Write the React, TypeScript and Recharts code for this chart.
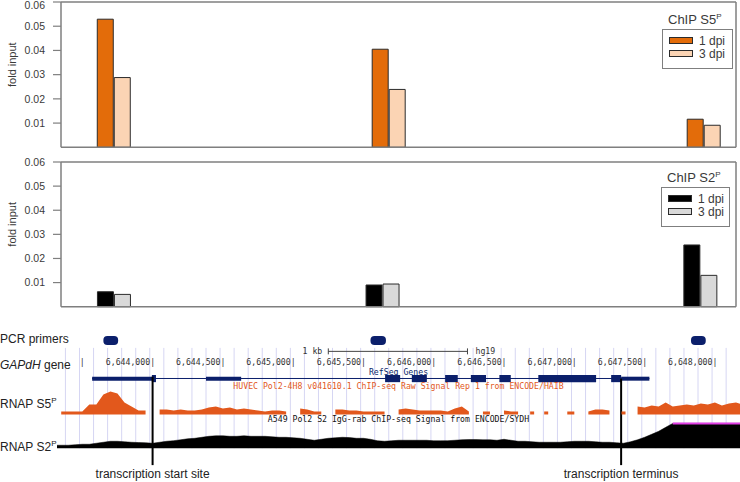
import React from "react";
import {
  BarChart,
  Bar,
  XAxis,
  YAxis,
  ReferenceLine,
  ReferenceArea,
  Legend,
  ComposedChart,
  Area,
  Line,
} from "recharts";

const sans = '"Liberation Sans", Arial, sans-serif';
const mono = '"DejaVu Sans Mono", monospace';
const axisGray = "#7f7f7f";
const textGray = "#3a3a3a";
const navy = "#0b1f6b";
const ucscOrange = "#e2581c";

// ChIP-qPCR, amplicon midpoints on chr12 (hg19, bp)
const s5Amplicons = [6643725, 6645680, 6647920];
const s5Dpi1 = [0.0529, 0.0405, 0.0116];
const s5Dpi3 = [0.0288, 0.0239, 0.0091];

const s2Amplicons = [6643725, 6645635, 6647895];
const s2Dpi1 = [0.0062, 0.009, 0.0256];
const s2Dpi3 = [0.0051, 0.0094, 0.013];

const yTicks = [0.01, 0.02, 0.03, 0.04, 0.05, 0.06];
const panelDomain = [6643350, 6648150];

// genome browser window
const browserDomain = [6643320, 6648200];
const primerStart = [6643650, 6645550, 6647830];
const primerEnd = [6643755, 6645660, 6647935];
const geneSpan = [6643570, 6647534];
const utrBlocks = [
  [6643570, 6644000],
  [6644380, 6644630],
  [6647333, 6647534],
];
const exonBlocks = [
  [6643995, 6644024],
  [6645654, 6645761],
  [6645844, 6645951],
  [6646081, 6646171],
  [6646264, 6646372],
  [6646467, 6646548],
  [6646744, 6647155],
  [6647262, 6647333],
];
const tssPos = 6644000;
const terminusPos = 6647333;
const scaleBar = [6645250, 6646240];
const coordTicks = [6643500, 6644000, 6644500, 6645000, 6645500, 6646000, 6646500, 6647000, 6647500, 6648000];
const coordLabels = ["|", "6,644,000|", "6,644,500|", "6,645,000|", "6,645,500|", "6,646,000|", "6,646,500|", "6,647,000|", "6,647,500|", "6,648,000|"];
const guidePos = Array.from({ length: 48 }, (_, i) => 6643380 + i * 100);

// signal tracks, 50 bp bins starting at 6,643,300
const binPos = Array.from({ length: 99 }, (_, i) => 6643300 + i * 50);
const s5Signal = [
  null, 3, 3, 3, 3, 10, 10, 20, 23, 21,
  12, 8, 4, 4, null, 5, 5, 4, 5, 4,
  4, 5, 7, 8, 6, 7, 5, 6, 5, 4,
  3, 4, 4, 3, null, 6, 5, 3, 3, null,
  5, 5, 4, 4, 3, 3, 3, 3, null, 5,
  6, 5, 4, 4, 4, 4, 3, 6, 8, 3,
  null, 3, 3, null, 4, 3, 3, null, 3, null,
  3, null, null, 3, 3, null, 3, 5, 5, 4,
  null, 3, null, 8, 7, 9, 8, 12, 8, 9,
  10, 9, 11, 10, 12, 9, 11, 12, 10,
];
const s2Signal = [
  3, 3, 3, 3.5, 4, 4, 5, 6, 7, 7,
  6.5, 6, 5.7, 5.5, 5, 6, 7, 7.6, 8.5, 9.5,
  10, 11, 12, 12.5, 12.5, 12, 12, 12.5, 12, 12,
  12, 11.5, 11, 11, 10.5, 10, 9, 8, 9, 10,
  10.5, 11, 10.7, 10, 10, 9, 7.5, 7, 7.5, 8,
  8, 8, 8, 8, 7.5, 7.5, 7.6, 8, 8.5, 8.7,
  8.7, 8.5, 8.5, 8, 9, 8, 7, 7, 6.5, 6,
  6, 6, 6, 6.5, 7, 7, 7, 6.5, 6, 6,
  5.5, 5, 6.5, 8.5, 11, 14, 17, 21, 25, 25,
  25, 25, 25, 25, 25, 25, 25, 25, 25,
];
const s2ViewLimit = 25;

const trackData = binPos.map((pos, i) => ({
  pos,
  s5: s5Signal[i],
  s2: s2Signal[i],
  s2clip: s2Signal[i] >= s2ViewLimit ? s2Signal[i] : null,
}));

function PanelLegend({ payload, title, boxWidth }: any) {
  return (
    <div style={{ fontFamily: sans, color: textGray, width: boxWidth }}>
      <div style={{ fontSize: 13, lineHeight: "19px", paddingLeft: 6, whiteSpace: "nowrap" }}>
        {title}
        <sup style={{ fontSize: 8 }}>P</sup>
      </div>
      <div
        style={{
          border: `1px solid ${axisGray}`,
          padding: "4px 0 8px 6px",
          width: boxWidth,
          boxSizing: "border-box",
        }}
      >
        {(payload || []).map((e: any) => (
          <div key={e.value} style={{ display: "flex", alignItems: "center", height: 13, fontSize: 12 }}>
            <span
              style={{
                display: "inline-block",
                width: 22,
                height: 5,
                background: e.color,
                border: "1px solid #2b2b2b",
                marginRight: 6,
              }}
            />
            {e.value}
          </div>
        ))}
      </div>
    </div>
  );
}

function ChipPanel(props: any) {
  const { top, height, marginTop, marginBottom, pos, dpi1, dpi3, fill1, fill3, title, legendLeft, legendTop, boxWidth } = props;
  const data = pos.map((p: number, i: number) => ({ pos: p, d1: dpi1[i], d3: dpi3[i] }));
  return (
    <BarChart
      width={740}
      height={height}
      data={data}
      margin={{ top: marginTop, right: 4, bottom: marginBottom, left: 0 }}
      barGap={1}
      barSize={16}
      style={{ position: "absolute", left: 0, top }}
    >
      <XAxis
        dataKey="pos"
        type="number"
        domain={panelDomain}
        ticks={[]}
        tick={false}
        tickLine={false}
        height={1}
        axisLine={{ stroke: axisGray, strokeWidth: 1.5 }}
      />
      <YAxis
        domain={[0, 0.06]}
        ticks={yTicks}
        width={61}
        tickSize={8}
        tickMargin={8}
        tick={{ fill: textGray, fontSize: 10.5, fontFamily: sans }}
        tickLine={{ stroke: axisGray, strokeWidth: 1.2 }}
        axisLine={{ stroke: axisGray, strokeWidth: 1.5 }}
        label={{
          value: "fold input",
          angle: -90,
          position: "insideLeft",
          offset: 12,
          dy: -10,
          fill: textGray,
          fontSize: 11,
          fontFamily: sans,
          style: { textAnchor: "middle" },
        }}
      />
      <ReferenceLine y={0.06} stroke={axisGray} strokeWidth={1.5} />
      <ReferenceLine x={panelDomain[1]} stroke={axisGray} strokeWidth={1.5} />
      <Legend
        layout="vertical"
        align="center"
        verticalAlign="middle"
        wrapperStyle={{ left: legendLeft, top: legendTop, width: boxWidth }}
        content={(p: any) => <PanelLegend payload={p.payload} title={title} boxWidth={boxWidth} />}
      />
      <Bar dataKey="d1" name="1 dpi" fill={fill1} stroke="#2b2b2b" strokeWidth={1} isAnimationActive={false} />
      <Bar dataKey="d3" name="3 dpi" fill={fill3} stroke="#2b2b2b" strokeWidth={1} isAnimationActive={false} />
    </BarChart>
  );
}

function CoordTick({ x, payload }: any) {
  const idx = coordTicks.indexOf(payload.value);
  return (
    <text x={x + 2.5} y={34.5} textAnchor="end" fontFamily={mono} fontSize={8.2} fill="#333">
      {coordLabels[idx]}
    </text>
  );
}

function IsolatedBin(p: any) {
  const { cx, cy, index } = p;
  const isolated = s5Signal[index] != null && s5Signal[index - 1] == null && s5Signal[index + 1] == null;
  if (!isolated || cy == null || isNaN(cy)) return <g key={`d${index}`} />;
  return <rect key={`d${index}`} x={cx - 2} y={cy} width={4} height={3} fill={ucscOrange} />;
}

function roundedPrimer(p: any) {
  return <rect x={p.x} y={p.y} width={p.width} height={p.height} rx={4} ry={4} fill={navy} />;
}

function BrowserPanel() {
  const lbl = { fontFamily: mono, fontSize: 8.2, fill: "#333" };
  return (
    <ComposedChart
      width={743}
      height={152}
      data={trackData}
      margin={{ top: 0, right: 0, bottom: 0, left: 57 }}
      style={{ position: "absolute", left: 0, top: 330 }}
    >
      <XAxis
        dataKey="pos"
        type="number"
        domain={browserDomain}
        allowDataOverflow
        orientation="top"
        height={1}
        axisLine={false}
        tickLine={false}
        ticks={coordTicks}
        interval={0}
        tick={<CoordTick />}
      />
      <YAxis yAxisId="row" type="number" domain={[330, 482]} allowDataOverflow reversed hide />
      <YAxis yAxisId="s5" type="number" domain={[-68, 84]} allowDataOverflow hide />
      <YAxis yAxisId="s2" type="number" domain={[-34, 118]} allowDataOverflow hide />

      {guidePos.map((g) => (
        <ReferenceLine
          key={`g${g}`}
          yAxisId="row"
          segment={[{ x: g, y: 347 }, { x: g, y: 448 }]}
          stroke="#d6d6f3"
          strokeWidth={1}
          zIndex={-10}
        />
      ))}

      {primerStart.map((s, i) => (
        <ReferenceArea
          key={`p${i}`}
          yAxisId="row"
          x1={s}
          x2={primerEnd[i]}
          y1={335}
          y2={344}
          shape={roundedPrimer}
        />
      ))}

      <ReferenceLine
        yAxisId="row"
        segment={[{ x: scaleBar[0], y: 350.5 }, { x: scaleBar[1], y: 350.5 }]}
        stroke="#444"
        strokeWidth={1}
      />
      <ReferenceLine
        yAxisId="row"
        segment={[{ x: scaleBar[0], y: 347.5 }, { x: scaleBar[0], y: 353.5 }]}
        stroke="#444"
        strokeWidth={1}
        label={{ value: "1 kb", position: "left", offset: 6, ...lbl }}
      />
      <ReferenceLine
        yAxisId="row"
        segment={[{ x: scaleBar[1], y: 347.5 }, { x: scaleBar[1], y: 353.5 }]}
        stroke="#444"
        strokeWidth={1}
        label={{ value: "hg19", position: "right", offset: 8, ...lbl }}
      />

      <ReferenceLine
        yAxisId="row"
        segment={[{ x: geneSpan[0], y: 377.8 }, { x: geneSpan[1], y: 377.8 }]}
        stroke={navy}
        strokeWidth={1}
      />
      {utrBlocks.map(([a, b]) => (
        <ReferenceArea key={`u${a}`} yAxisId="row" x1={a} x2={b} y1={376} y2={380} fill={navy} fillOpacity={1} stroke="none" />
      ))}
      {exonBlocks.map(([a, b]) => (
        <ReferenceArea key={`e${a}`} yAxisId="row" x1={a} x2={b} y1={374.3} y2={381.5} fill={navy} fillOpacity={1} stroke="none" />
      ))}

      <Area
        yAxisId="s5"
        dataKey="s5"
        type="linear"
        baseValue={0}
        fill={ucscOrange}
        fillOpacity={1}
        stroke="none"
        dot={IsolatedBin}
        activeDot={false}
        isAnimationActive={false}
      />
      <Area
        yAxisId="s2"
        dataKey="s2"
        type="linear"
        baseValue={0}
        fill="#000"
        fillOpacity={1}
        stroke="#000"
        strokeWidth={0.5}
        dot={false}
        activeDot={false}
        isAnimationActive={false}
      />
      <Line
        yAxisId="s2"
        dataKey="s2clip"
        stroke="#e23ee6"
        strokeWidth={2}
        dot={false}
        activeDot={false}
        isAnimationActive={false}
      />

      <ReferenceLine
        yAxisId="row"
        segment={[{ x: tssPos, y: 376 }, { x: tssPos, y: 465 }]}
        stroke="#000"
        strokeWidth={2}
        label={{ value: "transcription start site", position: "bottom", offset: 4, fill: "#222", fontSize: 12, fontFamily: sans }}
      />
      <ReferenceLine
        yAxisId="row"
        segment={[{ x: terminusPos, y: 378 }, { x: terminusPos, y: 465 }]}
        stroke="#000"
        strokeWidth={2}
        label={{ value: "transcription terminus", position: "bottom", offset: 4, fill: "#222", fontSize: 12, fontFamily: sans }}
      />
    </ComposedChart>
  );
}

const sideLabel: React.CSSProperties = {
  position: "absolute",
  left: 0,
  fontFamily: sans,
  fontSize: 12,
  lineHeight: "14px",
  color: "#222",
  whiteSpace: "nowrap",
};

const trackName: React.CSSProperties = {
  position: "absolute",
  left: 57,
  width: 683,
  textAlign: "center",
  fontFamily: mono,
  fontSize: 8.2,
  lineHeight: "10px",
  whiteSpace: "nowrap",
};

export default function App() {
  return (
    <div
      style={{
        position: "fixed",
        left: 0,
        top: 0,
        width: 740,
        height: 482,
        overflow: "hidden",
        background: "#fff",
        fontFamily: sans,
      }}
    >
      <ChipPanel
        top={0}
        height={152}
        marginTop={2}
        marginBottom={3.7}
        pos={s5Amplicons}
        dpi1={s5Dpi1}
        dpi3={s5Dpi3}
        fill1="#e36c0a"
        fill3="#fbd4b4"
        title="ChIP S5"
        legendLeft={662}
        legendTop={7}
        boxWidth={71}
      />
      <ChipPanel
        top={150}
        height={160}
        marginTop={12}
        marginBottom={2.3}
        pos={s2Amplicons}
        dpi1={s2Dpi1}
        dpi3={s2Dpi3}
        fill1="#000000"
        fill3="#d9d9d9"
        title="ChIP S2"
        legendLeft={661}
        legendTop={15}
        boxWidth={69}
      />
      <BrowserPanel />

      <div style={{ ...sideLabel, top: 332 }}>PCR primers</div>
      <div style={{ ...sideLabel, top: 358 }}>
        <i>GAPdH</i> gene
      </div>
      <div style={{ ...sideLabel, top: 394 }}>
        RNAP S5<sup style={{ fontSize: 8 }}>P</sup>
      </div>
      <div style={{ ...sideLabel, top: 437 }}>
        RNAP S2<sup style={{ fontSize: 8 }}>P</sup>
      </div>

      <div style={{ ...trackName, top: 366.5, color: navy }}>RefSeq Genes</div>
      <div style={{ ...trackName, top: 380.5, color: ucscOrange }}>
        HUVEC Pol2-4H8 v041610.1 ChIP-seq Raw Signal Rep 1 from ENCODE/HAIB
      </div>
      <div style={{ ...trackName, top: 414, color: "#111" }}>
        A549 Pol2 S2 IgG-rab ChIP-seq Signal from ENCODE/SYDH
      </div>
    </div>
  );
}
